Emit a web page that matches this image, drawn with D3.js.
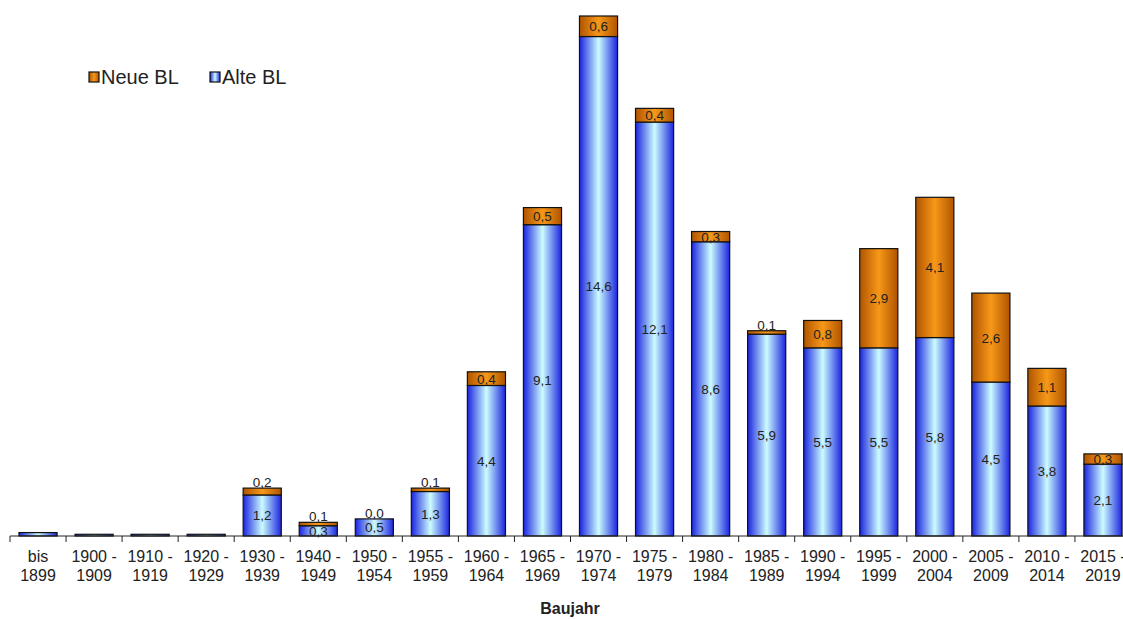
<!DOCTYPE html>
<html>
<head>
<meta charset="utf-8">
<script src="https://cdn.jsdelivr.net/npm/d3@7"></script>
<style>
  html, body { margin: 0; padding: 0; background: #fff; }
  svg { display: block; font-family: "Liberation Sans", Arial, sans-serif; }
</style>
</head>
<body>
<svg id="chart" width="1123" height="619"></svg>
<script>
// Construction periods (two-line tick labels)
const categories = [
  ["bis", "1899"], ["1900 -", "1909"], ["1910 -", "1919"], ["1920 -", "1929"],
  ["1930 -", "1939"], ["1940 -", "1949"], ["1950 -", "1954"], ["1955 -", "1959"],
  ["1960 -", "1964"], ["1965 -", "1969"], ["1970 -", "1974"], ["1975 -", "1979"],
  ["1980 -", "1984"], ["1985 -", "1989"], ["1990 -", "1994"], ["1995 -", "1999"],
  ["2000 -", "2004"], ["2005 -", "2009"], ["2010 -", "2014"], ["2015 -", "2019"]
];
// Share in percent, former federal states (Alte BL)
const alteBL = [0.1, 0.05, 0.05, 0.05, 1.2, 0.3, 0.5, 1.3, 4.4, 9.1, 14.6, 12.1, 8.6, 5.9, 5.5, 5.5, 5.8, 4.5, 3.8, 2.1];
// Share in percent, new federal states (Neue BL)
const neueBL = [0.0, 0.0, 0.0, 0.0, 0.2, 0.1, 0.0, 0.1, 0.4, 0.5, 0.6, 0.4, 0.3, 0.1, 0.8, 2.9, 4.1, 2.6, 1.1, 0.3];
// Which bars carry value labels (the first four are too small)
const labelled = [false, false, false, false, true, true, true, true, true, true, true, true, true, true, true, true, true, true, true, true];
const seriesNames = ["Alte BL", "Neue BL"];

const svg = d3.select("#chart");
const baseY = 536;

const x = d3.scaleBand()
  .domain(d3.range(categories.length))
  .range([10, 1131])
  .paddingInner(0.32)
  .paddingOuter(0.16);

const y = d3.scaleLinear()
  .domain([0, 15.2])
  .range([baseY, 16]);

// Horizontal "tube" gradients for the bars
const defs = svg.append("defs");
function grad(id, edge, mid) {
  const g = defs.append("linearGradient").attr("id", id)
    .attr("x1", "0%").attr("x2", "100%").attr("y1", "0%").attr("y2", "0%");
  g.append("stop").attr("offset", "0%").attr("stop-color", edge);
  g.append("stop").attr("offset", "50%").attr("stop-color", mid);
  g.append("stop").attr("offset", "100%").attr("stop-color", edge);
}
grad("gAlte", "#1a24e0", "#ccfcff");
grad("gNeue", "#b05400", "#f79818");

const rows = categories.map((c, i) => ({ i, alte: alteBL[i], neue: neueBL[i] }));
const stack = d3.stack().keys(["alte", "neue"])(rows);

const fills = ["url(#gAlte)", "url(#gNeue)"];
const fmt = v => d3.format(".1f")(v).replace(".", ",");

stack.forEach((layer, li) => {
  svg.append("g").selectAll("rect")
    .data(layer)
    .join("rect")
    .attr("x", d => x(d.data.i))
    .attr("width", x.bandwidth())
    .attr("y", d => y(d[1]))
    .attr("height", d => Math.max(0, y(d[0]) - y(d[1])))
    .attr("fill", fills[li])
    .attr("stroke", "#111")
    .attr("stroke-width", 1.2);
});

// Value labels
const labels = svg.append("g")
  .attr("font-size", 13.5)
  .attr("fill", "#222")
  .attr("text-anchor", "middle");

stack.forEach((layer, li) => {
  layer.forEach(d => {
    if (!labelled[d.data.i]) return;
    const v = d[1] - d[0];
    const cx = x(d.data.i) + x.bandwidth() / 2;
    const cy = (y(d[0]) + y(d[1])) / 2;
    let baseline = cy + 5;
    if (li === 1 && v < 0.25) baseline = y(d[1]) - 1;
    labels.append("text")
      .attr("x", cx)
      .attr("y", baseline)
      .text(fmt(v));
  });
});

// X axis
const axis = svg.append("g");
axis.append("line")
  .attr("x1", 10).attr("x2", 1123)
  .attr("y1", baseY).attr("y2", baseY)
  .attr("stroke", "#222").attr("stroke-width", 1);

const step = x.step();
const tickXs = d3.range(categories.length + 1).map(k => x(0) - x.paddingInner() * step / 2 + k * step);
axis.selectAll("line.tick")
  .data(tickXs.filter(t => t <= 1123))
  .join("line")
  .attr("class", "tick")
  .attr("x1", d => d).attr("x2", d => d)
  .attr("y1", baseY).attr("y2", baseY + 6)
  .attr("stroke", "#222");

const tl = axis.selectAll("text.cat")
  .data(categories)
  .join("text")
  .attr("class", "cat")
  .attr("text-anchor", "middle")
  .attr("font-size", 16)
  .attr("fill", "#222")
  .attr("x", (d, i) => x(i) + x.bandwidth() / 2);
tl.append("tspan").attr("x", (d, i) => x(i) + x.bandwidth() / 2).attr("y", 562).text(d => d[0]);
tl.append("tspan").attr("x", (d, i) => x(i) + x.bandwidth() / 2).attr("y", 581).text(d => d[1]);

// Axis title
svg.append("text")
  .attr("x", 570).attr("y", 614)
  .attr("text-anchor", "middle")
  .attr("font-size", 16)
  .attr("font-weight", "bold")
  .attr("fill", "#222")
  .text("Baujahr");

// Legend
const legendItems = [
  { name: seriesNames[1], fill: "url(#gNeue)", x: 89 },
  { name: seriesNames[0], fill: "url(#gAlte)", x: 210 }
];
const lg = svg.append("g").selectAll("g").data(legendItems).join("g")
  .attr("transform", d => `translate(${d.x},72)`);
lg.append("rect").attr("width", 10).attr("height", 10)
  .attr("fill", d => d.fill).attr("stroke", "#111").attr("stroke-width", 1.2);
lg.append("text").attr("x", 12).attr("y", 12)
  .attr("font-size", 20).attr("fill", "#222")
  .text(d => d.name);
</script>
</body>
</html>
